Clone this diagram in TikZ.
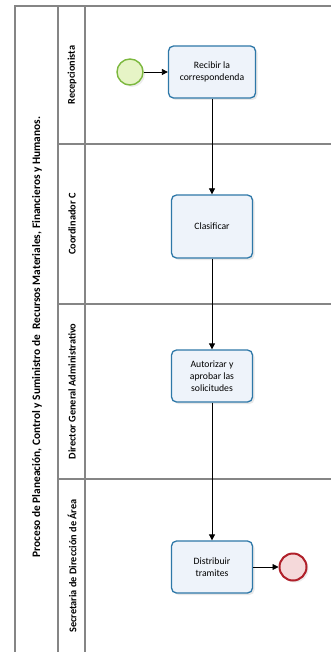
\documentclass[tikz,border=0pt]{standalone}
\usepackage{fontspec}
\setmainfont{Carlito}
\usetikzlibrary{arrows.meta,shadows}
\definecolor{poolgray}{HTML}{858585}
\definecolor{taskblue}{HTML}{2E78A8}
\definecolor{taskfill}{HTML}{EEF3FA}
\definecolor{startgreen}{HTML}{7CB83E}
\definecolor{startfill}{HTML}{E6F4C6}
\definecolor{endred}{HTML}{B0202A}
\definecolor{endfill}{HTML}{F5D9DA}
\begin{document}
\begin{tikzpicture}[x=1pt, y=-1pt,
    task/.style={rectangle, rounded corners=5pt, draw=taskblue, line width=1.3pt, fill=taskfill, minimum width=81pt, minimum height=52pt, align=center, inner sep=2pt, font=\fontsize{9.7}{12.3}\selectfont, drop shadow={opacity=0.18, shadow xshift=2pt, shadow yshift=-2pt}},
    startev/.style={circle, draw=startgreen, line width=1.4pt, fill=startfill, minimum size=26pt, inner sep=0pt, drop shadow={opacity=0.15, shadow xshift=2pt, shadow yshift=-2pt}},
    endev/.style={circle, draw=endred, line width=2pt, fill=endfill, minimum size=27pt, inner sep=0pt, drop shadow={opacity=0.15, shadow xshift=2pt, shadow yshift=-2pt}},
    lane/.style={rotate=90, font=\bfseries\fontsize{10.3}{12}\selectfont},
    flow/.style={-{Triangle[length=6pt, width=6pt]}, line width=0.8pt}]
    \useasboundingbox (0,0) rectangle (331,652);
    % pool and lanes
    \draw[poolgray, line width=1.5pt] (15,652) -- (15,6) -- (331,6);
    \draw[poolgray, line width=1.2pt] (58,6) -- (58,652);
    \draw[poolgray, line width=1.2pt] (85,6) -- (85,652);
    \draw[poolgray, line width=1.2pt] (58,144) -- (331,144);
    \draw[poolgray, line width=1.2pt] (58,304) -- (331,304);
    \draw[poolgray, line width=1.2pt] (58,479) -- (331,479);
    \node[lane, font=\bfseries\fontsize{11.4}{13}\selectfont] (proceso) at (37,337) {Proceso de Planeación, Control y Suministro de\ \ Recursos Materiales, Financieros y Humanos.};
    \node[lane] (recepcionista) at (72,75) {Recepcionista};
    \node[lane] (coordinador) at (72,224) {Coordinador C};
    \node[lane] (director) at (72,391.5) {Director General Administrativo};
    \node[lane] (secretaria) at (72,566) {Secretaria de Dirección de Área};
    % events and tasks
    \node[startev] (inicio) at (130,72) {};
    \node[task, minimum width=87pt] (recibir) at (212,72) {Recibir la\\correspondenda};
    \node[task, minimum height=63pt] (clasificar) at (212,226.5) {Clasificar};
    \node[task] (autorizar) at (212,376) {Autorizar y\\aprobar las\\solicitudes};
    \node[task] (distribuir) at (212,567) {Distribuir\\tramites};
    \node[endev] (fin) at (293,567) {};
    \draw[flow] (inicio) -- (recibir);
    \draw[flow] (recibir) -- (clasificar);
    \draw[flow] (clasificar) -- (autorizar);
    \draw[flow] (autorizar) -- (distribuir);
    \draw[flow] (distribuir) -- (fin);
\end{tikzpicture}
\end{document}
